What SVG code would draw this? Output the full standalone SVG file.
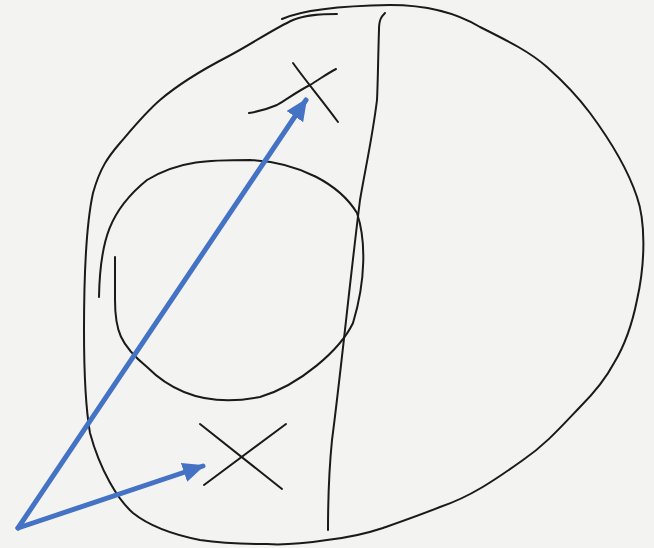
<svg xmlns="http://www.w3.org/2000/svg" width="654" height="548" viewBox="0 0 654 548">
<style>
.ink{fill:none;stroke:#1a1a1a;stroke-width:2;stroke-linecap:round;stroke-linejoin:round}
.arr{fill:none;stroke:#4472C4;stroke-width:5;stroke-linecap:round}
</style>
<defs>
<marker id="ah" markerUnits="userSpaceOnUse" markerWidth="24" markerHeight="20" refX="20" refY="10" orient="auto">
<path d="M0,0 L22,10 L0,20 Z" fill="#4472C4"/>
</marker>
</defs>
<rect width="654" height="548" fill="#f3f3f2"/>
<g id="outline">
<path class="ink" d="M282,19 C300,11 330,6 390,5 C430,5 460,15 480,27 C510,42 530,52 547,67 C565,83 578,97 590,113 C610,140 628,170 637,197 C645,220 646,260 637,300 C632,325 625,345 614,363 C605,380 595,392 580,407 C560,428 545,445 523,460 C495,480 470,497 440,507 C420,515 400,522 383,528 C365,534 345,538 327,540 C300,544 280,545 267,544 C240,544 220,543 200,540 C170,534 148,525 133,513 C118,500 100,470 90,433 C86,410 84,380 84,330 C84,270 86,225 93,193 C100,168 108,157 120,143 C132,129 145,113 160,100 C180,83 200,71 227,57 C250,45 275,28 293,20 C308,14 325,14 337,14"/>
</g>
<g id="circle">
<path class="ink" d="M99,297 C100,240 110,210 147,180 C180,160 210,160 250,160 C300,162 340,185 357,213 C366,240 366,280 353,323 C340,350 300,385 260,397 C220,405 180,400 147,367 C120,345 115,330 115,300 L115,257"/>
</g>
<g id="divider">
<path class="ink" d="M385,13 C381,17 379,20 379,30 C378,60 378,80 377,100 C372,140 365,170 360,200 C350,280 340,380 332,440 C329,470 328,500 328,530"/>
</g>
<g id="cross-top">
<path class="ink" d="M249,113 C262,111 270,108 277,105 C290,97 300,90 310,85 C320,79 328,73 336,69"/>
<path class="ink" d="M293,63 C305,80 322,100 338,122"/>
</g>
<g id="cross-bottom">
<path class="ink" d="M200,424 L282,489"/>
<path class="ink" d="M204,485 L286,424"/>
</g>
<g id="connectors">
<line class="arr" x1="18" y1="528" x2="306" y2="100" marker-end="url(#ah)"/>
<line class="arr" x1="18" y1="528" x2="203" y2="466" marker-end="url(#ah)"/>
</g>
</svg>
